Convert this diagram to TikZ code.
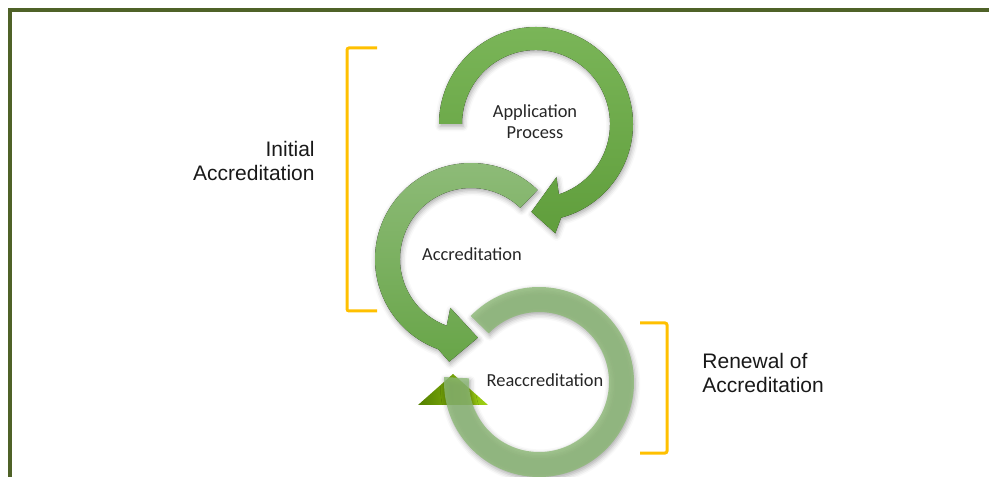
\documentclass[tikz,border=0pt]{standalone}
\usepackage{fontspec}
\setmainfont{Carlito}
\newfontfamily\sidefont{Liberation Sans}
\usetikzlibrary{calc,shadows.blur}

\definecolor{framegreen}{RGB}{79,98,40}
\definecolor{bracketgold}{RGB}{255,192,0}
\definecolor{appTop}{RGB}{122,181,88}
\definecolor{appBottom}{RGB}{96,158,60}
\definecolor{accTop}{RGB}{143,188,122}
\definecolor{accBottom}{RGB}{104,165,72}
\definecolor{reaccFill}{RGB}{140,185,118}
\definecolor{headDark}{RGB}{84,128,0}
\definecolor{headLight}{RGB}{160,210,20}

\tikzset{
  loop label/.style={font=\fontsize{9.2}{10.5}\selectfont, align=center, text=black!85},
  side label/.style={font=\sidefont\fontsize{10.5}{12}\selectfont, text=black!90, inner sep=0pt},
  bracket/.style={draw=bracketgold, line width=1.5pt, rounded corners=1pt},
  loop shadow/.style={blur shadow={shadow xshift=0.6pt, shadow yshift=-1.2pt,
      shadow blur radius=2.5pt, shadow opacity=35}},
}

\begin{document}
\begin{tikzpicture}[x=0.5pt,y=0.5pt]
\useasboundingbox (0,0) rectangle (989,476);
\clip (0,0) rectangle (989,476);
\draw[framegreen, line width=1.6pt] (10,-10) -- (10,466) -- (1000,466);

\coordinate (c1) at (536,352);
\coordinate (c2) at (471,217);
\coordinate (c3) at (539,94);

\shade[left color=headDark, right color=headLight] (418,71) -- (453,102) -- (488,71) -- cycle;
\fill[reaccFill, fill opacity=.8, loop shadow]
  ([shift={(136:95)}]c3) arc[start angle=136, end angle=-183, radius=95]
  -- ([shift={(-183:70)}]c3) arc[start angle=-183, end angle=136, radius=70] -- cycle;

\fill[top color=accTop, bottom color=accBottom, loop shadow]
  ([shift={(46:96)}]c2) arc[start angle=46, end angle=250, radius=96]
  -- ([shift={(258:105)}]c2) -- ([shift={(275:79)}]c2) -- ([shift={(247:53)}]c2)
  -- ([shift={(250:71)}]c2) arc[start angle=250, end angle=46, radius=71] -- cycle;

\fill[top color=appTop, bottom color=appBottom, loop shadow]
  ([shift={(180:97)}]c1) arc[start angle=180, end angle=-75, radius=97]
  -- ([shift={(-80:111)}]c1) -- ([shift={(-93:88)}]c1) -- ([shift={(-69:57)}]c1)
  -- ([shift={(-72:74)}]c1) arc[start angle=-72, end angle=180, radius=74] -- cycle;

\node[loop label] (app) at (535,354) {Application\\Process};
\node[loop label] (acc) at (472,222) {Accreditation};
\node[loop label] (reacc) at (545,96) {Reaccreditation};

\node[side label, anchor=east, align=right] (initial) at (315,315) {Initial\\Accreditation};
\node[side label, anchor=west, align=left] (renewal) at (702,103) {Renewal of\\Accreditation};

\draw[bracket] (377,428) -- (347,428) -- (347,165) -- (377,165);
\draw[bracket] (640,153) -- (667,153) -- (667,23) -- (640,23);
\end{tikzpicture}
\end{document}
